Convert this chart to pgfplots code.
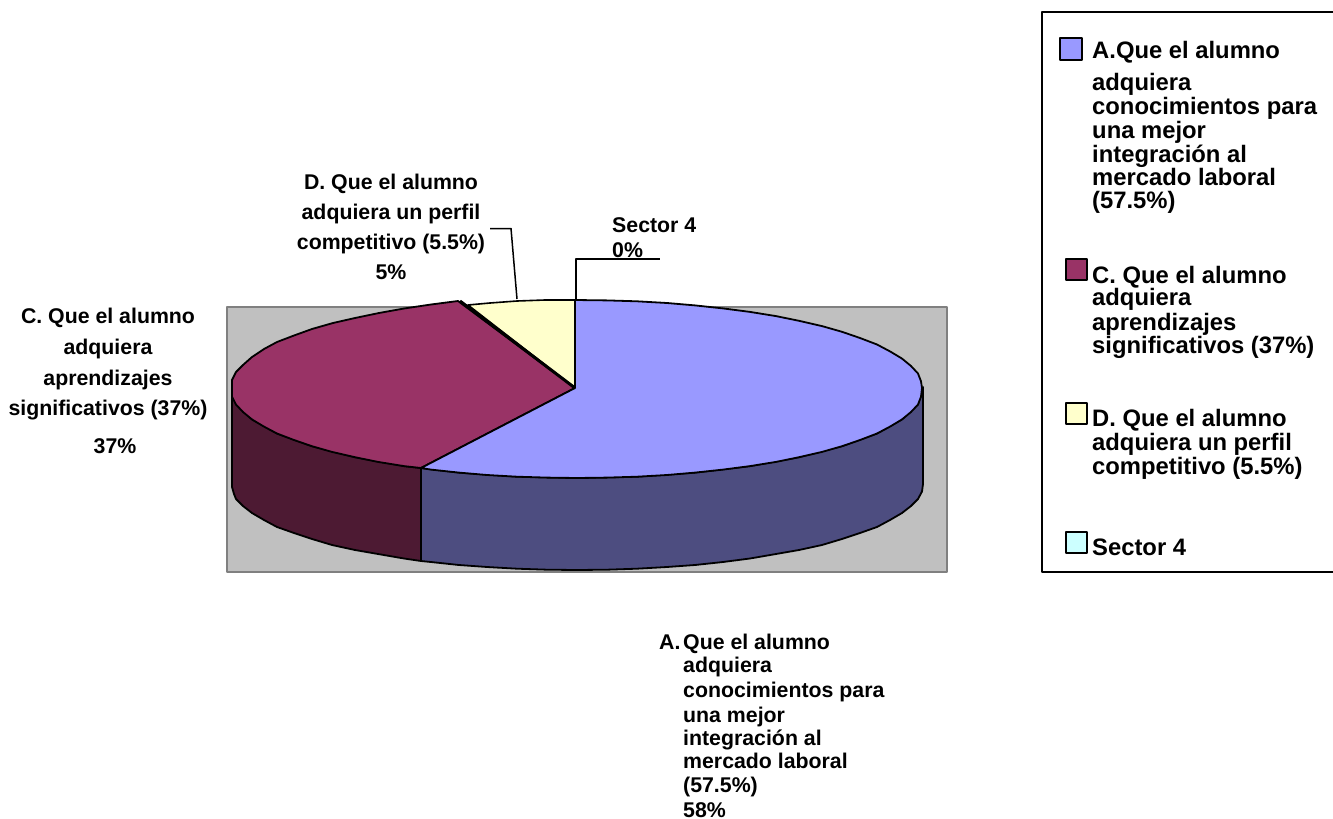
\documentclass[border=0pt]{standalone}
\usepackage{pgfplots}
\pgfplotsset{compat=1.18}
\usepackage{fontspec}
\setmainfont{Liberation Sans}
\definecolor{plotgrey}{HTML}{C0C0C0}
\definecolor{plotedge}{HTML}{808080}
\definecolor{sliceA}{HTML}{9999FF}
\definecolor{sliceAside}{HTML}{4D4D80}
\definecolor{sliceC}{HTML}{993366}
\definecolor{sliceCside}{HTML}{4D1A33}
\definecolor{sliceD}{HTML}{FFFFCC}
\definecolor{sliceS}{HTML}{CCFFFF}
\newcommand{\lab}{\fontsize{21.3}{24}\selectfont\bfseries}
\newcommand{\leg}{\fontsize{23.8}{26}\selectfont\bfseries}
\tikzset{
  labc/.style={anchor=base, inner sep=0pt, font=\lab, text=black},
  labw/.style={anchor=base west, inner sep=0pt, font=\lab, text=black},
  legw/.style={anchor=base west, inner sep=0pt, font=\leg, text=black},
}
\begin{document}
\begin{tikzpicture}
\path[use as bounding box] (0,0) rectangle (1333pt,819pt);
\begin{axis}[
  at={(666.5pt,409.5pt)}, anchor=center,
  scale only axis, width=1333pt, height=819pt,
  xmin=0, xmax=1333, ymin=0, ymax=819, y dir=reverse,
  axis lines=none, clip=false,
  every axis plot/.append style={no markers, line join=round},
]
% plot area
\addplot[fill=plotgrey, draw=plotedge, line width=1.8pt] coordinates {(227,307) (947,307) (947,572) (227,572)} -- cycle;

% outer walls of the two front slices
\addplot[fill=sliceAside, draw=black, line width=1.8pt] coordinates {
 (923,387) (923,484) (922,491.5) (918,499) (911,506) (902,513) (890,520) (877,527) (860,533)
 (842,539) (822,545) (799,550) (776,554) (750,558.5) (723,562) (695,565) (667,567) (637,568.7)
 (607,569.7) (577,570) (547,569.7) (517,568.7) (487,567) (459,565) (431,562) (421,561) (421,468)
 (459,472.6) (517,476.7) (577,478) (637,476.7) (695,472.6) (750,466.1) (799,457.2)
 (842,446.2) (877,433.5) (902,419.4) (918,404.5)} -- cycle;
\addplot[fill=sliceCside, draw=black, line width=1.8pt] coordinates {
 (421,468) (421,561) (404,558.5) (378,554) (355,550) (332,545) (312,539) (294,533) (277,527)
 (264,520) (252,513) (243,506) (236,499) (234,494) (232,487) (232,387) (236,404.5) (252,419.4)
 (277,433.5) (312,446.2) (355,457.2) (404,466.1)} -- cycle;

% top faces
\addplot[fill=sliceD, draw=black, line width=1.6pt] coordinates {
 (575,388) (468,305) (490,303) (517,301) (545,300) (575,300)} -- cycle;
\addplot[fill=sliceC, draw=black, line width=1.8pt] coordinates {
 (575,388) (421,468) (404,466.1) (378,461.9) (355,457.2) (332,451.9) (312,446.2) (294,440)
 (277,433.5) (264,426.6) (252,419.4) (243,412) (236,404.5) (232,396.7) (232,388) (232,380)
 (236,372) (243,365) (252,357) (264,349) (277,342) (294,335.5) (312,329) (333,323) (355,318)
 (379,313) (404,308.5) (431,304.5) (458,301)} -- cycle;
\addplot[fill=sliceA, draw=black, line width=1.8pt] coordinates {
 (575,388) (575,300) (607,300.4) (637,301.3) (667,303) (695,305.4) (723,308.4) (750,311.9)
 (776,316.1) (799,320.8) (822,326.1) (842,331.8) (860,338) (877,344.5) (890,351.4) (902,358.6)
 (911,366) (918,373.5) (921,381.3) (922,388) (921,396.7) (918,404.5) (911,412) (902,419.4)
 (890,426.6) (877,433.5) (860,440) (842,446.2) (822,451.9) (799,457.2) (776,461.9) (750,466.1)
 (723,469.6) (695,472.6) (667,475) (637,476.7) (607,477.6) (577,478) (547,477.6) (517,476.7)
 (487,475) (459,472.6) (431,469.6) (421,468)} -- cycle;
\addplot[draw=black, line width=3pt] coordinates {(575,388) (460,301)};

% leader lines
\addplot[draw=black, line width=1.5pt] coordinates {(490,228.5) (511,228.5) (517,299)};
\addplot[draw=black, line width=1.5pt] coordinates {(576,300) (576,259) (660,259)};

% data labels
\node[labc] at (axis cs:391,189) {D. Que el alumno};
\node[labc] at (axis cs:391,219) {adquiera un perfil};
\node[labc] at (axis cs:391,249) {competitivo (5.5\%)};
\node[labc] at (axis cs:391,279) {5\%};
\node[labw] at (axis cs:612,232) {Sector 4};
\node[labw] at (axis cs:612,257) {0\%};
\node[labc] at (axis cs:108,323) {C. Que el alumno};
\node[labc] at (axis cs:108,354) {adquiera};
\node[labc] at (axis cs:108,385) {aprendizajes};
\node[labc] at (axis cs:108,415) {significativos (37\%)};
\node[labc] at (axis cs:115,453) {37\%};
\node[labw] at (axis cs:659,649) {A.};
\node[labw] at (axis cs:683,649) {Que el alumno};
\node[labw] at (axis cs:683,672) {adquiera};
\node[labw] at (axis cs:683,697) {conocimientos para};
\node[labw] at (axis cs:683,722) {una mejor};
\node[labw] at (axis cs:683,745) {integración al};
\node[labw] at (axis cs:683,768) {mercado laboral};
\node[labw] at (axis cs:683,792) {(57.5\%)};
\node[labw] at (axis cs:683,817) {58\%};

% legend frame, running off the right edge
\addplot[draw=black, line width=1.7pt] coordinates {(1333,12) (1042,12) (1042,572) (1333,572)};

% legend swatches
\addplot[fill=sliceA, draw=black, line width=1.4pt] coordinates {(1060,38) (1082,38) (1082,60) (1060,60)} -- cycle;
\addplot[fill=sliceC, draw=black, line width=1.4pt] coordinates {(1066,259) (1087,259) (1087,280) (1066,280)} -- cycle;
\addplot[fill=sliceD, draw=black, line width=1.4pt] coordinates {(1066,403) (1087,403) (1087,424) (1066,424)} -- cycle;
\addplot[fill=sliceS, draw=black, line width=1.4pt] coordinates {(1066,532) (1087,532) (1087,553) (1066,553)} -- cycle;

% legend entries
\node[legw] at (axis cs:1092,58) {A.Que el alumno};
\node[legw] at (axis cs:1092,90) {adquiera};
\node[legw] at (axis cs:1092,114) {conocimientos para};
\node[legw] at (axis cs:1092,138) {una mejor};
\node[legw] at (axis cs:1092,162) {integración al};
\node[legw] at (axis cs:1092,185) {mercado laboral};
\node[legw] at (axis cs:1092,208) {(57.5\%)};
\node[legw] at (axis cs:1092,283) {C. Que el alumno};
\node[legw] at (axis cs:1092,305) {adquiera};
\node[legw] at (axis cs:1092,330) {aprendizajes};
\node[legw] at (axis cs:1092,353) {significativos (37\%)};
\node[legw] at (axis cs:1092,426) {D. Que el alumno};
\node[legw] at (axis cs:1092,450) {adquiera un perfil};
\node[legw] at (axis cs:1092,474) {competitivo (5.5\%)};
\node[legw] at (axis cs:1092,555) {Sector 4};
\end{axis}
\end{tikzpicture}
\end{document}
